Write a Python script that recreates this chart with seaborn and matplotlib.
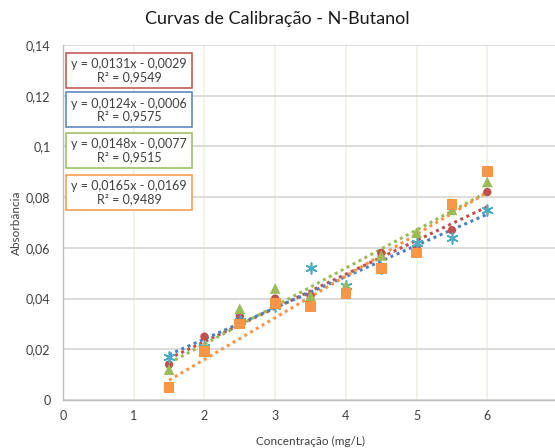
import numpy as np
import pandas as pd
import seaborn as sns
import matplotlib
matplotlib.use("Agg")
import matplotlib.pyplot as plt
from matplotlib.ticker import FixedLocator, FixedFormatter

### Data ###
conc = [1.5, 2.0, 2.5, 3.0, 3.5, 4.0, 4.5, 5.0, 5.5, 6.0]
abs_red = [0.014, 0.025, 0.033, 0.040, 0.041, 0.043, 0.058, 0.060, 0.067, 0.082]
abs_blue = [0.017, 0.021, 0.031, 0.037, 0.052, 0.045, 0.052, 0.062, 0.064, 0.075]
abs_green = [0.012, 0.021, 0.036, 0.044, 0.041, 0.045, 0.057, 0.066, 0.075, 0.086]
abs_orange = [0.005, 0.019, 0.030, 0.038, 0.037, 0.042, 0.052, 0.058, 0.077, 0.090]

equations = ["y = 0,0131x - 0,0029\nR² = 0,9549",
             "y = 0,0124x - 0,0006\nR² = 0,9575",
             "y = 0,0148x - 0,0077\nR² = 0,9515",
             "y = 0,0165x - 0,0169\nR² = 0,9489"]

yticks = [0, 0.02, 0.04, 0.06, 0.08, 0.10, 0.12, 0.14]
ytick_labels = ["0", "0,02", "0,04", "0,06", "0,08", "0,1", "0,12", "0,14"]
xticks = [0, 1, 2, 3, 4, 5, 6]

### Style ###
sns.set_theme(style="white")
plt.rcParams['font.family'] = ['Lato', 'DejaVu Sans']

fig = plt.figure(figsize=(5.55, 4.48), dpi=100)
ax = fig.add_axes([0.1135, 0.1071, 0.892, 0.7924])

series = [
    (abs_red, "#C0504D", "#C0504D", "o", 36),
    (abs_blue, "#4BACC6", "#4F81BD", (6, 2, 0), 60),
    (abs_green, "#9BBB59", "#9BBB59", "^", 60),
    (abs_orange, "#F79646", "#F79646", "s", 60),
]

# trend lines first
for vals, mcol, lcol, mk, sz in series:
    sns.regplot(x=np.array(conc), y=np.array(vals), ax=ax, ci=None, scatter=False,
                truncate=True,
                line_kws=dict(color=lcol, linestyle=(0, (1, 1.2)), linewidth=2.2))

for vals, mcol, lcol, mk, sz in series:
    if mk == (6, 2, 0):
        ax.scatter(conc, vals, marker=mk, s=sz, color=mcol, linewidths=1.2, zorder=3)
    else:
        sns.scatterplot(x=conc, y=vals, ax=ax, marker=mk, s=sz, color=mcol,
                        edgecolor="none", zorder=3)

ax.set_xlim(0, 7)
ax.set_ylim(0, 0.14)
ax.yaxis.set_major_locator(FixedLocator(yticks))
ax.yaxis.set_major_formatter(FixedFormatter(ytick_labels))
ax.xaxis.set_major_locator(FixedLocator(xticks))

ax.grid(axis="y", color="#D9D9D9", linewidth=1.3)
for xv in xticks[1:] + [7]:
    ax.axvline(xv, color="#F1F1E4", linewidth=1.3, zorder=0)
ax.set_axisbelow(True)

for s in ["top", "right"]:
    ax.spines[s].set_visible(False)
for s in ["left", "bottom"]:
    ax.spines[s].set_color("#BFBFBF")
    ax.spines[s].set_linewidth(1.0)

ax.tick_params(axis="both", length=0, labelsize=9, colors="#404040")
ax.tick_params(axis="y", pad=9)
ax.tick_params(axis="x", pad=7)

ax.set_xlabel("Concentração (mg/L)", fontsize=8.5, color="#404040", labelpad=10)
ax.set_ylabel("Absorbância", fontsize=8.5, color="#404040", labelpad=3)
fig.suptitle("Curvas de Calibração - N-Butanol", x=0.5, y=0.975, fontsize=13, color="#1A1A1A")

box_y = [71, 110, 151, 193]
for eq, yy, (vals, mcol, lcol, mk, sz) in zip(equations, box_y, series):
    ax.text(129 / 555, 1 - yy / 448, eq, transform=fig.transFigure, ha="center", va="center",
            fontsize=9, color="#404040", linespacing=1.1,
            bbox=dict(boxstyle="square,pad=0.4", facecolor="white", edgecolor=lcol, linewidth=1.1))

fig.savefig("out.png", dpi=100)
